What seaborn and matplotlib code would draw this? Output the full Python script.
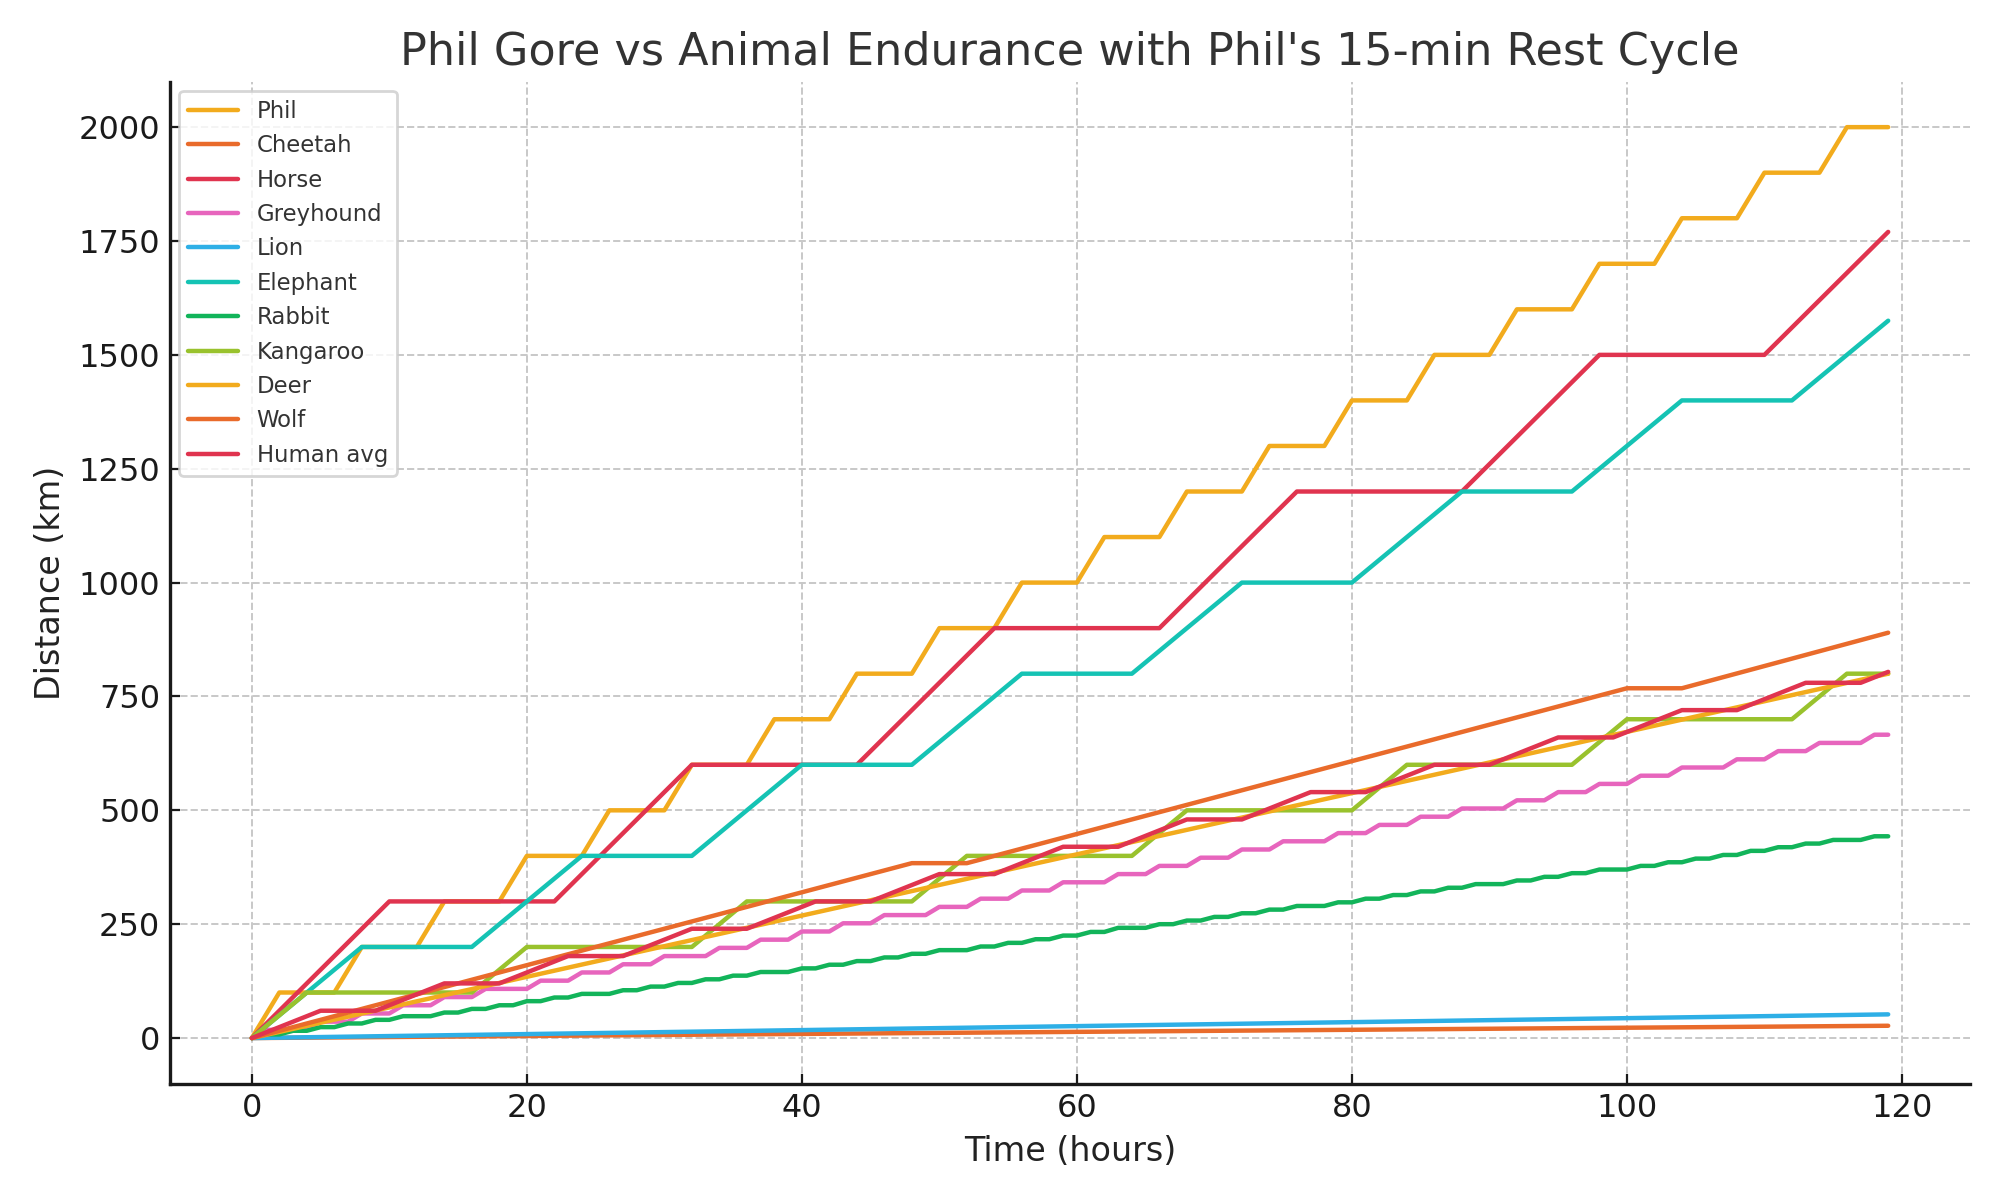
import numpy as np
import pandas as pd
import matplotlib
matplotlib.use("Agg")
import matplotlib.pyplot as plt
import seaborn as sns

# --- data (polyline corners, km vs hours) ---
phil_t = [0, 2, 6, 8, 12, 14, 18, 20, 24, 26, 30, 32, 36, 38, 42, 44, 48, 50, 54, 56, 60,
          62, 66, 68, 72, 74, 78, 80, 84, 86, 90, 92, 96, 98, 102, 104, 108, 110, 114, 116, 119]
phil_km = [0, 100, 100, 200, 200, 300, 300, 400, 400, 500, 500, 600, 600, 700, 700, 800, 800,
           900, 900, 1000, 1000, 1100, 1100, 1200, 1200, 1300, 1300, 1400, 1400, 1500, 1500,
           1600, 1600, 1700, 1700, 1800, 1800, 1900, 1900, 2000, 2000]

cheetah_t = [0, 119]
cheetah_km = [0, 27]

horse_t = [0, 10, 22, 32, 44, 54, 66, 76, 88, 98, 110, 119]
horse_km = [0, 300, 300, 600, 600, 900, 900, 1200, 1200, 1500, 1500, 1770]

# greyhound and rabbit are hourly samples (small steps)
hours = np.arange(120)
greyhound_km = [0, 18, 18, 18, 18, 36, 36, 36, 54, 54,
                54, 72, 72, 72, 90, 90, 90, 108, 108, 108,
                108, 126, 126, 126, 144, 144, 144, 162, 162, 162,
                180, 180, 180, 180, 198, 198, 198, 216, 216, 216,
                234, 234, 234, 252, 252, 252, 270, 270, 270, 270,
                288, 288, 288, 306, 306, 306, 324, 324, 324, 342,
                342, 342, 342, 360, 360, 360, 378, 378, 378, 396,
                396, 396, 414, 414, 414, 432, 432, 432, 432, 450,
                450, 450, 468, 468, 468, 486, 486, 486, 504, 504,
                504, 504, 522, 522, 522, 540, 540, 540, 558, 558,
                558, 576, 576, 576, 594, 594, 594, 594, 612, 612,
                612, 630, 630, 630, 648, 648, 648, 648, 666, 666]

lion_t = [0, 119]
lion_km = [0, 52]

elephant_t = [0, 8, 16, 24, 32, 40, 48, 56, 64, 72, 80, 88, 96, 104, 112, 119]
elephant_km = [0, 200, 200, 400, 400, 600, 600, 800, 800, 1000, 1000, 1200, 1200, 1400, 1400, 1575]

rabbit_km = [0, 8, 8, 16, 16, 24, 24, 32, 32, 40,
             40, 48, 48, 48, 56, 56, 64, 64, 72, 72,
             81, 81, 89, 89, 97, 97, 97, 105, 105, 113,
             113, 121, 121, 129, 129, 137, 137, 145, 145, 145,
             153, 153, 161, 161, 169, 169, 177, 177, 185, 185,
             193, 193, 193, 201, 201, 209, 209, 217, 217, 225,
             225, 233, 233, 242, 242, 242, 250, 250, 258, 258,
             266, 266, 274, 274, 282, 282, 290, 290, 290, 298,
             298, 306, 306, 314, 314, 322, 322, 330, 330, 338,
             338, 338, 346, 346, 354, 354, 362, 362, 370, 370,
             370, 378, 378, 386, 386, 394, 394, 402, 402, 411,
             411, 419, 419, 427, 427, 435, 435, 435, 443, 443]

kangaroo_t = [0, 4, 16, 20, 32, 36, 48, 52, 64, 68, 80, 84, 96, 100, 112, 116, 119]
kangaroo_km = [0, 100, 100, 200, 200, 300, 300, 400, 400, 500, 500, 600, 600, 700, 700, 800, 800]

deer_t = [0, 119]
deer_km = [0, 800]

wolf_t = [0, 48, 52, 100, 104, 119]
wolf_km = [0, 384, 384, 768, 768, 890]

human_t = [0, 5, 9, 14, 18, 23, 27, 32, 36, 41, 45, 50, 54, 59, 63, 68, 72, 77, 81,
           86, 90, 95, 99, 104, 108, 113, 117, 119]
human_km = [0, 60, 60, 120, 120, 180, 180, 240, 240, 300, 300, 360, 360, 420, 420, 480, 480,
            540, 540, 600, 600, 660, 660, 720, 720, 780, 780, 804]

names = ["Phil", "Cheetah", "Horse", "Greyhound", "Lion", "Elephant",
         "Rabbit", "Kangaroo", "Deer", "Wolf", "Human avg"]
series = [(phil_t, phil_km), (cheetah_t, cheetah_km), (horse_t, horse_km),
          (hours, greyhound_km), (lion_t, lion_km), (elephant_t, elephant_km),
          (hours, rabbit_km), (kangaroo_t, kangaroo_km), (deer_t, deer_km),
          (wolf_t, wolf_km), (human_t, human_km)]

# 8-colour cycle, repeats after Kangaroo
base_colors = ["#F2AB1D", "#E96B2B", "#E0344F", "#E765BD",
               "#2EAFE6", "#15C3B4", "#12B45A", "#99C22D"]
palette = [base_colors[i % 8] for i in range(len(names))]

frames = []
for name, (t, km) in zip(names, series):
    frames.append(pd.DataFrame({"Time": np.asarray(t, dtype=float),
                                "Distance": np.asarray(km, dtype=float),
                                "Animal": name}))
df = pd.concat(frames, ignore_index=True)

sns.set_style("ticks")
plt.rcParams.update({
    "font.family": ["DejaVu Sans"],
    "axes.edgecolor": "#1a1a1a",
    "axes.linewidth": 1.2,
    "xtick.direction": "in",
    "ytick.direction": "in",
    "xtick.major.size": 3.5,
    "ytick.major.size": 3.5,
    "xtick.color": "#1a1a1a",
    "ytick.color": "#1a1a1a",
})

fig, ax = plt.subplots(figsize=(10, 6), dpi=200)
sns.lineplot(data=df, x="Time", y="Distance", hue="Animal", hue_order=names,
             palette=palette, estimator=None, sort=False, linewidth=1.6, ax=ax)

ax.grid(True, linestyle="--", color="#c8c8c8", linewidth=0.7)
sns.despine(ax=ax)
ax.set_title("Phil Gore vs Animal Endurance with Phil's 15-min Rest Cycle",
             fontsize=16, color="#333333")
ax.set_xlabel("Time (hours)", fontsize=12, color="#222222")
ax.set_ylabel("Distance (km)", fontsize=12, color="#222222")
ax.tick_params(labelsize=11.5)
ax.set_xticks([0, 20, 40, 60, 80, 100, 120])
ax.set_yticks([0, 250, 500, 750, 1000, 1250, 1500, 1750, 2000])

sns.move_legend(ax, "upper left", title=None, fontsize=8.2, frameon=True,
                borderaxespad=0.4, handlelength=2.2)
leg = ax.get_legend()
leg.get_frame().set_edgecolor("#cccccc")
for txt in leg.get_texts():
    txt.set_color("#333333")

fig.subplots_adjust(left=0.085, right=0.985, top=0.932, bottom=0.097)
fig.savefig("out.png", dpi=200)
